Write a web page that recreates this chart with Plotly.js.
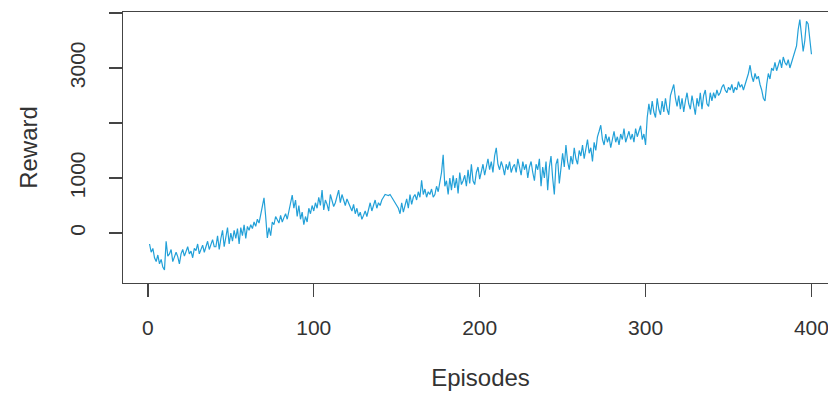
<!DOCTYPE html>
<html>
<head>
<meta charset="utf-8">
<script src="https://cdn.plot.ly/plotly-3.0.1.min.js"></script>
<style>
html,body{margin:0;padding:0;overflow:hidden;background:#fff;}
#chart{width:850px;height:394px;}
</style>
</head>
<body>
<div id="chart"></div>
<script>
// Reward per episode (episodes 1..400)
var rewards = [
-200,-350,-280,-450,-520,-400,-560,-480,-620,-670,
-150,-420,-380,-300,-520,-450,-350,-430,-560,-380,
-300,-420,-350,-250,-380,-330,-450,-280,-320,-200,
-380,-300,-220,-350,-250,-150,-300,-200,-120,-250,
-250,-50,-300,-100,50,-250,-80,100,-200,0,
-150,50,-100,80,-200,100,-50,150,-100,120,
50,150,80,200,120,250,180,350,450,640,
300,-90,100,-50,200,150,300,250,180,320,
200,280,350,250,400,550,690,450,600,300,
500,250,380,150,300,200,450,350,500,400,
550,450,650,500,780,420,600,520,400,700,
600,480,550,650,780,550,700,600,500,620,
550,480,400,520,350,450,300,380,250,320,
400,300,450,550,400,500,600,450,550,500,
600,650,700,690,680,700,650,600,550,480,
450,350,550,380,500,620,450,700,520,650,
700,600,750,650,960,700,800,650,750,700,
800,650,700,850,750,900,1100,1420,850,950,
700,1000,780,1050,820,1000,720,1100,880,950,
1050,850,1150,900,1250,950,880,1100,1200,980,
1100,1250,1050,1200,1350,1150,1300,1100,1400,1550,
1250,1150,1300,1200,1050,1250,1150,1300,1100,1200,
1250,1100,1350,1200,1050,1300,1150,1250,1000,1200,
1300,1100,950,1250,1150,1350,850,1200,1000,1300,
780,1200,1400,1000,700,1250,1350,900,1150,1450,
1200,1600,1300,1150,1400,1250,1550,1350,1250,1500,
1400,1600,1350,1500,1700,1450,1550,1300,1650,1500,
1750,1850,1960,1700,1600,1800,1650,1750,1550,1700,
1850,1650,1750,1600,1800,1700,1900,1650,1750,1850,
1700,1800,1650,1900,1750,1850,1950,1700,1800,1600,
2100,2350,2150,2400,2200,2100,2450,2250,2150,2400,
2200,2450,2250,2150,2500,2600,2700,2450,2300,2500,
2250,2450,2200,2400,2550,2350,2250,2500,2300,2150,
2450,2300,2550,2250,2500,2600,2350,2300,2550,2400,
2550,2450,2600,2500,2550,2650,2700,2600,2550,2650,
2600,2700,2550,2650,2600,2750,2650,2700,2600,2700,
2800,2900,3050,2850,2750,2900,2800,2850,2700,2600,
2450,2400,2700,2900,2800,3000,2950,3100,2950,3050,
3150,3000,3200,3100,3050,3150,3000,3100,3200,3300,
3400,3700,3880,3600,3300,3500,3850,3800,3500,3250
];
var episodes = rewards.map(function(_, i){ return i + 1; });

var xTicks = [0, 100, 200, 300, 400];
var xTickText = ["0", "100", "200", "300", "400"];
var yTicks = [0, 1000, 2000, 3000, 4000];
var yTickText = ["0", "1000", "", "3000", ""];

var font = {family: "Liberation Sans, Arial, sans-serif", size: 21, color: "#333"};
var titleFont = {family: "Liberation Sans, Arial, sans-serif", size: 24, color: "#333"};

var trace = {
  x: episodes, y: rewards, type: "scatter", mode: "lines",
  line: {color: "#22a0d8", width: 1.2},
  hoverinfo: "skip"
};

var layout = {
  width: 850, height: 394,
  margin: {l: 123, r: 12, t: 12, b: 111},
  paper_bgcolor: "#fff", plot_bgcolor: "#fff",
  showlegend: false,
  font: font,
  xaxis: {
    range: [-15, 416], tickvals: xTicks, ticktext: xTickText,
    showgrid: false, zeroline: false,
    showline: true, mirror: true, linecolor: "#444", linewidth: 1.4,
    ticks: "outside", ticklen: 13, tickwidth: 1.4, tickcolor: "#444",
    ticklabelstandoff: 12,
    tickfont: font,
    title: {text: "Episodes", font: titleFont, standoff: 31}
  },
  yaxis: {
    range: [-909, 4018], tickvals: yTicks, ticktext: yTickText,
    showgrid: false, zeroline: false,
    showline: true, mirror: true, linecolor: "#444", linewidth: 1.4,
    ticks: "outside", ticklen: 13, tickwidth: 1.4, tickcolor: "#444",
    tickangle: -90, ticklabelstandoff: 15,
    tickfont: font,
    title: {text: "Reward", font: titleFont, standoff: 22}
  }
};

Plotly.newPlot("chart", [trace], layout, {displayModeBar: false, staticPlot: true});
</script>
</body>
</html>
